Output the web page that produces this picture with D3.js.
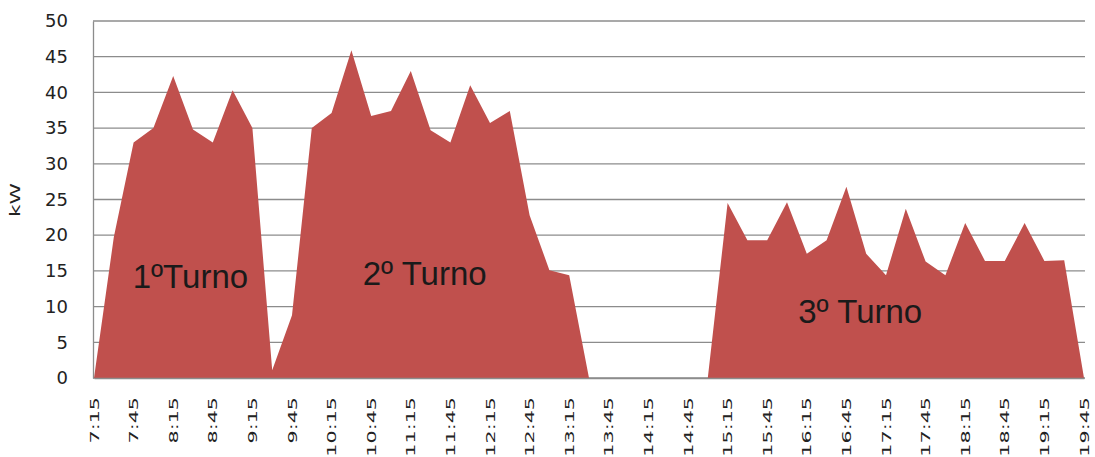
<!DOCTYPE html>
<html>
<head>
<meta charset="utf-8">
<script src="https://cdn.jsdelivr.net/npm/d3@7"></script>
<style>
  body { margin: 0; background: #fff; }
  svg { display: block; }
</style>
</head>
<body>
<svg id="chart" width="1095" height="457"></svg>
<script>
// 15-minute readings, 7:15 .. 19:45
var times = ["7:15","7:30","7:45","8:00","8:15","8:30","8:45","9:00","9:15","9:30",
  "9:45","10:00","10:15","10:30","10:45","11:00","11:15","11:30","11:45","12:00",
  "12:15","12:30","12:45","13:00","13:15","13:30","13:45","14:00","14:15","14:30",
  "14:45","15:00","15:15","15:30","15:45","16:00","16:15","16:30","16:45","17:00",
  "17:15","17:30","17:45","18:00","18:15","18:30","18:45","19:00","19:15","19:30","19:45"];

var kw = [0, 19.7, 33, 35, 42.3, 34.8, 33, 40.3, 35, 1.1,
  8.8, 35, 37.1, 45.9, 36.7, 37.4, 43, 34.7, 33, 41,
  35.7, 37.4, 22.8, 15.1, 14.4, 0, 0, 0, 0, 0,
  0, 0, 24.5, 19.3, 19.3, 24.6, 17.4, 19.3, 26.8, 17.4,
  14.4, 23.7, 16.3, 14.4, 21.7, 16.4, 16.4, 21.7, 16.4, 16.5, 0];

var yTicks = [0, 5, 10, 15, 20, 25, 30, 35, 40, 45, 50];

// shift labels: text, position on the time index, baseline value
var shiftNames = ["1ºTurno", "2º Turno", "3º Turno"];
var shiftAt = [4.87, 16.7, 38.7];
var shiftLevel = [12.6, 13.0, 7.7];

var svg = d3.select("#chart");
var plotLeft = 93, plotRight = 1085, plotTop = 21, plotBottom = 378;

var x = d3.scaleLinear().domain([0, times.length - 1]).range([94, 1084]);
var y = d3.scaleLinear().domain([0, 50]).range([plotBottom, plotTop]);

// gridlines
svg.append("g").selectAll("line")
  .data(yTicks)
  .enter().append("line")
  .attr("x1", plotLeft).attr("x2", plotRight)
  .attr("y1", function (d) { return y(d); })
  .attr("y2", function (d) { return y(d); })
  .attr("stroke", "#8c8c8c")
  .attr("stroke-width", 1.3);

// area
var area = d3.area()
  .x(function (d, i) { return x(i); })
  .y0(y(0))
  .y1(function (d) { return y(d); });

svg.append("path")
  .datum(kw)
  .attr("d", area)
  .attr("fill", "#C0504D");

// y axis
var yAxis = svg.append("g")
  .attr("transform", "translate(" + plotLeft + ",0)")
  .call(d3.axisLeft(y).tickValues(yTicks).tickSize(0).tickPadding(25));
yAxis.select(".domain").attr("stroke", "#8c8c8c").attr("stroke-width", 1.3);
yAxis.selectAll("text")
  .attr("font-family", "DejaVu Sans")
  .attr("font-size", 18)
  .attr("fill", "#222");

// x axis
var xAxis = svg.append("g")
  .attr("transform", "translate(0," + plotBottom + ")")
  .call(d3.axisBottom(x)
    .tickValues(d3.range(0, times.length, 2))
    .tickFormat(function (i) { return times[i]; })
    .tickSize(0));
xAxis.select(".domain").attr("stroke", "#8c8c8c").attr("stroke-width", 1.3);
xAxis.selectAll("text")
  .attr("y", 0)
  .attr("dy", "0.35em")
  .attr("text-anchor", "end")
  .attr("transform", "translate(0,19) rotate(-90) scale(1.8,1)")
  .attr("font-family", "DejaVu Sans")
  .attr("font-size", 11.5)
  .attr("fill", "#222");

// y title
svg.append("text")
  .attr("transform", "translate(15,200) rotate(-90) scale(1.6,1)")
  .attr("text-anchor", "middle")
  .attr("dy", "0.35em")
  .attr("font-family", "DejaVu Sans")
  .attr("font-size", 13.5)
  .attr("fill", "#222")
  .text("kW");

// shift labels
svg.append("g").selectAll("text")
  .data(shiftNames)
  .enter().append("text")
  .attr("x", function (d, i) { return x(shiftAt[i]); })
  .attr("y", function (d, i) { return y(shiftLevel[i]); })
  .attr("text-anchor", "middle")
  .attr("font-family", "Liberation Sans")
  .attr("font-size", 33)
  .attr("fill", "#1a1a1a")
  .text(function (d) { return d; });
</script>
</body>
</html>
